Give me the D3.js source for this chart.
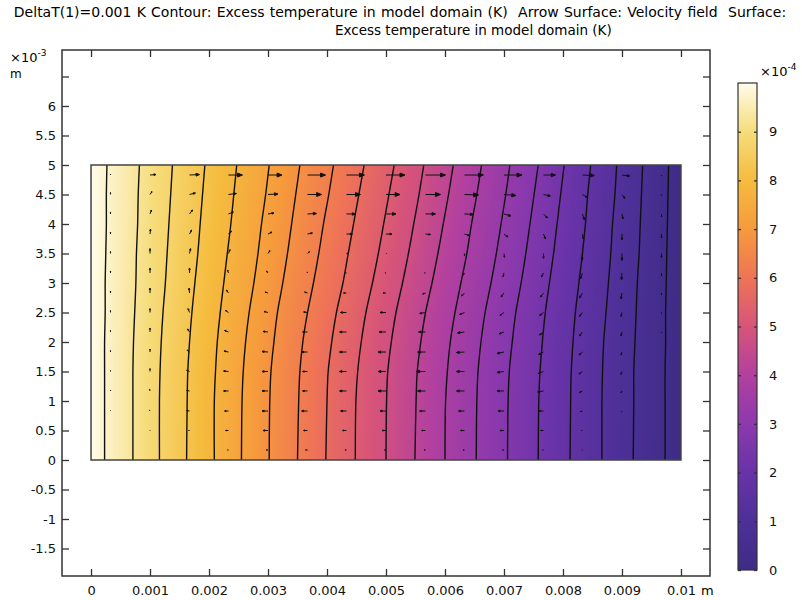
<!DOCTYPE html>
<html>
<head>
<meta charset="utf-8">
<script src="https://cdn.jsdelivr.net/npm/d3@7"></script>
<style>
  body { margin: 0; background: #fff; }
  svg { font-family: "DejaVu Sans", sans-serif; }
</style>
</head>
<body>
<svg id="chart" width="802" height="600"></svg>
<script>
// contour levels (x10^-4 K), left (hot) to right (cold)
const levels = [9.75, 9.25, 8.75, 8.25, 7.75, 7.25, 6.75, 6.25, 5.75, 5.25,
  4.75, 4.25, 3.75, 3.25, 2.75, 2.25, 1.75, 1.25, 0.75, 0.25];

// heights (mm) where contour x positions were read
const contourY = [0, 1, 1.5, 2, 2.5, 3, 3.5, 4, 4.5, 5];

// contour x positions (mm), one row per level
const contourX = [
  [0.23, 0.23, 0.23, 0.23, 0.24, 0.24, 0.25, 0.26, 0.26, 0.27],
  [0.71, 0.71, 0.71, 0.72, 0.74, 0.76, 0.77, 0.79, 0.80, 0.82],
  [1.16, 1.16, 1.17, 1.19, 1.22, 1.26, 1.29, 1.32, 1.35, 1.38],
  [1.62, 1.63, 1.64, 1.67, 1.71, 1.76, 1.81, 1.85, 1.89, 1.93],
  [2.09, 2.09, 2.11, 2.14, 2.19, 2.25, 2.31, 2.37, 2.42, 2.47],
  [2.55, 2.56, 2.58, 2.62, 2.68, 2.76, 2.83, 2.89, 2.96, 3.02],
  [3.02, 3.03, 3.05, 3.10, 3.16, 3.25, 3.33, 3.40, 3.47, 3.54],
  [3.50, 3.52, 3.54, 3.59, 3.67, 3.77, 3.86, 3.94, 4.03, 4.11],
  [3.98, 4.00, 4.02, 4.08, 4.16, 4.27, 4.36, 4.45, 4.54, 4.63],
  [4.48, 4.49, 4.52, 4.58, 4.66, 4.77, 4.87, 4.96, 5.05, 5.14],
  [5.00, 5.01, 5.03, 5.09, 5.17, 5.28, 5.38, 5.47, 5.56, 5.64],
  [5.49, 5.51, 5.53, 5.59, 5.67, 5.78, 5.88, 5.97, 6.06, 6.14],
  [6.00, 6.01, 6.04, 6.09, 6.17, 6.27, 6.37, 6.45, 6.54, 6.62],
  [6.53, 6.54, 6.56, 6.61, 6.68, 6.78, 6.87, 6.95, 7.03, 7.10],
  [7.06, 7.07, 7.09, 7.14, 7.20, 7.29, 7.37, 7.44, 7.51, 7.58],
  [7.58, 7.59, 7.61, 7.65, 7.70, 7.77, 7.84, 7.90, 7.96, 8.02],
  [8.12, 8.13, 8.14, 8.17, 8.21, 8.27, 8.33, 8.38, 8.42, 8.47],
  [8.66, 8.66, 8.67, 8.69, 8.73, 8.77, 8.81, 8.84, 8.88, 8.91],
  [9.19, 9.20, 9.20, 9.22, 9.24, 9.26, 9.29, 9.31, 9.33, 9.35],
  [9.73, 9.73, 9.73, 9.74, 9.74, 9.75, 9.76, 9.77, 9.78, 9.79]
];

// arrow grid (mm)
const arrowX = [0.33, 1.00, 1.67, 2.33, 3.00, 3.67, 4.33, 5.00, 5.67, 6.33, 7.00, 7.67, 8.33, 9.00, 9.67];
const arrowY = [4.83, 4.50, 4.17, 3.83, 3.50, 3.17, 2.83, 2.50, 2.17, 1.83, 1.50, 1.17, 0.83, 0.50, 0.17];

// velocity components (a.u.), rows follow arrowY, v positive = up
const uVel = [
  [0, 6, 10, 14, 14, 18, 18, 19, 20, 19, 18, 12, 12, 8, 0],
  [0, 2, 6, 8, 10, 14, 14, 14, 15, 14, 12, 7, 5, 3, 0],
  [0, 1.5, 3, 5, 6, 9, 9, 10, 10, 9, 7, 4, 2, 1, 0],
  [0, 0.5, 2, 3, 4, 5, 6, 6, 5, 5, 4, 2, 1, 0, 0],
  [0, 0, 1, 1.5, 2, 2, 1, 0.5, 0, 0, 0.5, 0, -0.5, 0, 0],
  [0, 0, 0, -1, -1.5, -0.5, -1, -1, -1, -1, -1, -2, -2, -0.5, 0],
  [0, 0, -0.5, -2, -3, -3, -3, -3, -3, -3, -3, -3, -3, -1, 0],
  [0, 0, -1.5, -3, -4, -4, -6, -6, -6, -5, -4, -4, -3, -1, 0],
  [0, 0, -2, -4, -5, -5, -7, -7, -7, -7, -5, -4, -3, -1, 0],
  [0, 0, -2.5, -4.5, -6, -6, -7, -8, -8, -8, -7, -5, -3.5, -1, 0],
  [0, 0, -3, -5, -6, -5, -7, -8, -9, -8, -7, -5.5, -3.5, -1, 0],
  [0, -0.5, -3, -5, -6, -5, -7, -8, -8, -8, -7, -6, -3, -1, 0],
  [0, -0.5, -3, -4, -6, -6, -6, -6, -6, -6, -6, -5, -2, -0.5, 0],
  [0, 0, -1, -3, -5, -4, -4, -4, -4, -4, -4, -3, -1, 0, 0],
  [0, 0, 0, -1, -2, -2, -1.5, -1.5, -1.5, -1.5, -1.5, -1, -0.5, 0, 0]
];
const vVel = [
  [1, 0.5, 0.5, 0, 0, 0, 0, 0, 0, 0, 0, 0, -0.5, -1, -1],
  [2, 3, 1.5, 1, 0.5, 0, 0, 0, 0, -0.5, -1, -1.5, -3, -4, -1],
  [2, 4, 4, 2, 1, 0.5, 0, 0, 0, -0.5, -2, -4, -6, -5, -3],
  [2, 5, 4, 3, 2, 1, 0, 0, -0.5, -1.5, -3, -5, -5, -6, -4],
  [2, 5, 5, 4, 3, 2, 0.5, 0, 0, -2, -4, -5, -7, -7, -4],
  [2, 5, 5, 3, 2, 1, 0, 0, 0, -2, -4, -4, -6, -7, -3],
  [2, 5, 5, 3, 1, 1, 0, 0, -1, -3, -4, -4, -5, -6, -2],
  [2, 4, 4, 2, 1, 0.5, 0, 0, -1, -2, -3, -3, -4, -4, -1],
  [1.5, 4, 3, 1.5, 0.5, 0, 0, 0, 0, -1, -2, -3, -4, -4, -1],
  [1.5, 3, 2, 1, 0.5, 0, 0, 0, 0, -0.5, -1.5, -2.5, -3, -3, 0],
  [1, 3, 1.5, 0.5, 0, 0, 0, 0, 0, 0, -1, -2, -2.5, -3, 0],
  [1, 2, 0.5, 0, 0, 0, 0, 0, 0, 0, 0, -1, -1.5, -2, 0],
  [0.5, 1, 0.5, 0, 0, 0, 0, 0, 0, 0, 0, 0, -0.5, -1, 0],
  [0, 0.5, 0, 0, 0, 0, 0, 0, 0, 0, 0, 0, 0, 0, 0],
  [0, 0, 0, 0, 0, 0, 0, 0, 0, 0, 0, 0, 0, 0, 0]
];

// colour table, one colour per 1e-4 K from 0 to 10
const colorValues = [0, 1, 2, 3, 4, 5, 6, 7, 8, 9, 10];
const colorStops = ['#3e2c86', '#4d3098', '#6833a8', '#8c39ad', '#b2409f', '#d75479',
  '#ef7456', '#f69a3c', '#f5bc3e', '#f6dc7a', '#fffcea'];

const xTicks = [0, 0.001, 0.002, 0.003, 0.004, 0.005, 0.006, 0.007, 0.008, 0.009, 0.01];
const yTicks = [-1.5, -1, -0.5, 0, 0.5, 1, 1.5, 2, 2.5, 3, 3.5, 4, 4.5, 5, 5.5, 6, 6.5];
const cTicks = [0, 1, 2, 3, 4, 5, 6, 7, 8, 9];

const titleLine1 = 'DeltaT(1)=0.001 K Contour: Excess temperature in model domain (K)  Arrow Surface: Velocity field  Surface:';
const titleLine2 = 'Excess temperature in model domain (K)';

const svg = d3.select('#chart');

// plot frame
const frame = { left: 62, right: 710, top: 50, bottom: 576 };
const xScale = d3.scaleLinear().domain([-0.000492, 0.010492]).range([frame.left, frame.right]);
const yScale = d3.scaleLinear().domain([-1.966, 6.949]).range([frame.bottom, frame.top]);
const colorScale = d3.scaleLinear().domain(colorValues).range(colorStops).interpolate(d3.interpolateRgb);

// title
svg.append('text').attr('x', 400).attr('y', 17).attr('text-anchor', 'middle')
  .style('white-space', 'pre').style('font-size', '14px').style('word-spacing', '0.8px').text(titleLine1);
svg.append('text').attr('x', 335).attr('y', 35).attr('text-anchor', 'start')
  .style('font-size', '13.5px').text(titleLine2);

// surface: temperature interpolated between the read contour lines
const sx0 = Math.round(xScale(0)), sx1 = Math.round(xScale(0.01));
const sy0 = Math.round(yScale(5)), sy1 = Math.round(yScale(0));
const sw = sx1 - sx0, sh = sy1 - sy0;
const canvas = document.createElement('canvas');
canvas.width = sw; canvas.height = sh;
const ctx = canvas.getContext('2d');
const img = ctx.createImageData(sw, sh);
const lineScales = contourX.map(xs => d3.scaleLinear().domain(contourY).range(xs));
for (let j = 0; j < sh; j++) {
  const ymm = yScale.invert(sy0 + j + 0.5);
  const xs = [0].concat(lineScales.map(s => s(ymm))).concat([10]);
  const ts = [10].concat(levels).concat([0]);
  const rowScale = d3.scaleLinear().domain(xs).range(ts);
  for (let i = 0; i < sw; i++) {
    const xmm = xScale.invert(sx0 + i + 0.5) * 1000;
    const c = d3.rgb(colorScale(rowScale(xmm)));
    const k = (j * sw + i) * 4;
    img.data[k] = c.r; img.data[k + 1] = c.g; img.data[k + 2] = c.b; img.data[k + 3] = 255;
  }
}
ctx.putImageData(img, 0, 0);
svg.append('image').attr('x', sx0).attr('y', sy0).attr('width', sw).attr('height', sh)
  .attr('preserveAspectRatio', 'none').attr('href', canvas.toDataURL());

// contour lines
const contourLine = d3.line()
  .x(d => xScale(d[0] / 1000))
  .y(d => yScale(d[1]))
  .curve(d3.curveCatmullRom);
svg.append('g').selectAll('path').data(contourX).join('path')
  .attr('d', xs => contourLine(xs.map((x, i) => [x, contourY[i]])))
  .attr('fill', 'none').attr('stroke', '#111').attr('stroke-width', 1.4);

// domain outline
svg.append('rect').attr('x', xScale(0)).attr('y', yScale(5))
  .attr('width', xScale(0.01) - xScale(0)).attr('height', yScale(0) - yScale(5))
  .attr('fill', 'none').attr('stroke', '#444').attr('stroke-width', 1.5);

// arrows (tail at grid point)
const arrows = [];
arrowY.forEach((yy, r) => arrowX.forEach((xx, c) => arrows.push({ x: xx, y: yy, u: uVel[r][c], v: vVel[r][c] })));
const lenScale = d3.scaleLinear().domain([0, 20]).range([0, 20]);
svg.append('g').selectAll('path').data(arrows).join('path')
  .attr('d', d => {
    const x0 = xScale(d.x / 1000), y0 = yScale(d.y);
    const dx = lenScale(d.u), dy = -lenScale(d.v);
    const L = Math.hypot(dx, dy);
    if (L < 0.3) return null;
    const ux = dx / L, uy = dy / L;
    const x1 = x0 + dx, y1 = y0 + dy;
    const hl = Math.min(L * 0.35, 5), hw = hl * 0.4;
    const bx = x1 - ux * hl, by = y1 - uy * hl;
    return `M${x0},${y0}L${bx},${by}M${x1},${y1}L${bx - uy * hw},${by + ux * hw}L${bx + uy * hw},${by - ux * hw}Z`;
  })
  .attr('fill', '#111').attr('stroke', '#111').attr('stroke-width', 1);

// axes on all four sides, ticks pointing inward
const fmtX = d => d === 0 ? '0' : String(+d.toFixed(3));
const axisStyle = g => {
  g.selectAll('.domain').remove();
  g.selectAll('line').attr('stroke', '#333').attr('stroke-width', 1.3);
  g.selectAll('text').attr('fill', '#111').style('font-size', '13px').style('font-family', '"DejaVu Sans", sans-serif');
};
svg.append('g').attr('transform', `translate(0,${frame.bottom})`)
  .call(d3.axisBottom(xScale).tickValues(xTicks).tickFormat(fmtX).tickSize(-7).tickPadding(10))
  .call(axisStyle);
svg.append('g').attr('transform', `translate(0,${frame.top})`)
  .call(d3.axisTop(xScale).tickValues(xTicks).tickFormat('').tickSize(-7))
  .call(axisStyle);
svg.append('g').attr('transform', `translate(${frame.left},0)`)
  .call(d3.axisLeft(yScale).tickValues(yTicks).tickFormat(d => d === 6.5 ? '' : String(d)).tickSize(-7).tickPadding(6))
  .call(axisStyle);
svg.append('g').attr('transform', `translate(${frame.right},0)`)
  .call(d3.axisRight(yScale).tickValues(yTicks).tickFormat('').tickSize(-7))
  .call(axisStyle);
svg.append('rect').attr('x', frame.left).attr('y', frame.top)
  .attr('width', frame.right - frame.left).attr('height', frame.bottom - frame.top)
  .attr('fill', 'none').attr('stroke', '#333').attr('stroke-width', 1.5);

// axis unit labels
const yUnit = svg.append('text').attr('x', 10).attr('y', 62).style('font-size', '13px');
yUnit.append('tspan').text('×10');
yUnit.append('tspan').attr('dy', -6).style('font-size', '9px').text('-3');
svg.append('text').attr('x', 10).attr('y', 78).style('font-size', '12px').text('m');
svg.append('text').attr('x', 701).attr('y', 595).style('font-size', '13px').text('m');

// colour bar
const cb = { left: 738, right: 757, top: 83, bottom: 570 };
const cScale = d3.scaleLinear().domain([0, 10]).range([cb.bottom, cb.top]);
const grad = svg.append('defs').append('linearGradient').attr('id', 'cbar')
  .attr('x1', 0).attr('y1', 1).attr('x2', 0).attr('y2', 0);
grad.selectAll('stop').data(colorValues).join('stop')
  .attr('offset', d => d / 10).attr('stop-color', d => colorScale(d));
svg.append('rect').attr('x', cb.left).attr('y', cb.top)
  .attr('width', cb.right - cb.left).attr('height', cb.bottom - cb.top)
  .attr('fill', 'url(#cbar)').attr('stroke', '#333').attr('stroke-width', 1.2);
svg.append('g').attr('transform', `translate(${cb.right},0)`)
  .call(d3.axisRight(cScale).tickValues(cTicks).tickFormat(d => String(d)).tickSize(-3).tickPadding(12))
  .call(axisStyle);
svg.append('g').attr('transform', `translate(${cb.left},0)`)
  .call(d3.axisLeft(cScale).tickValues(cTicks).tickFormat('').tickSize(-3))
  .call(axisStyle);
const cUnit = svg.append('text').attr('x', 760).attr('y', 76).style('font-size', '13px');
cUnit.append('tspan').text('×10');
cUnit.append('tspan').attr('dy', -6).style('font-size', '9px').text('-4');
</script>
</body>
</html>
